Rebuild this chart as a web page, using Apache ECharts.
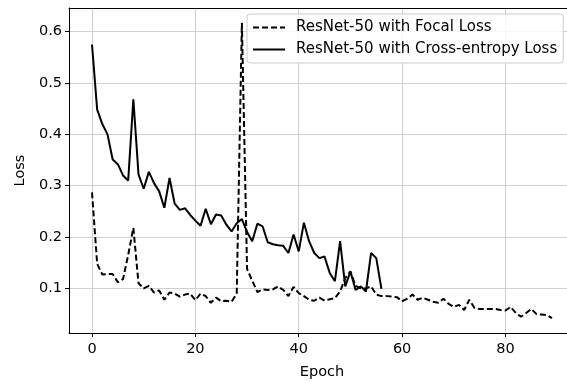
<!DOCTYPE html>
<html>
<head>
<meta charset="utf-8">
<script src="https://cdn.jsdelivr.net/npm/echarts@6/dist/echarts.min.js"></script>
<style>html,body{margin:0;padding:0;background:#fff}#c{width:567px;height:383px}</style>
</head>
<body>
<div id="c"></div>
<script>
const focalLoss = [0.287,0.148,0.127,0.128,0.128,0.112,0.118,0.165,0.218,0.110,
  0.100,0.105,0.092,0.096,0.078,0.092,0.090,0.084,0.088,0.090,
  0.077,0.090,0.085,0.072,0.082,0.075,0.076,0.074,0.090,0.617,
  0.138,0.115,0.093,0.098,0.097,0.098,0.104,0.097,0.085,0.103,
  0.091,0.085,0.078,0.076,0.082,0.076,0.079,0.081,0.094,0.120,
  0.133,0.105,0.100,0.100,0.104,0.088,0.085,0.085,0.084,0.083,
  0.075,0.080,0.088,0.078,0.082,0.078,0.074,0.072,0.080,0.070,
  0.064,0.068,0.058,0.078,0.062,0.060,0.060,0.060,0.060,0.058,
  0.057,0.064,0.052,0.045,0.052,0.060,0.050,0.049,0.048,0.042];
const ceLoss = [0.575,0.448,0.420,0.400,0.351,0.342,0.320,0.310,0.468,0.322,
  0.294,0.327,0.305,0.289,0.257,0.315,0.265,0.253,0.256,0.243,
  0.232,0.222,0.255,0.225,0.244,0.242,0.224,0.211,0.227,0.235,
  0.210,0.192,0.226,0.221,0.190,0.186,0.184,0.183,0.169,0.205,
  0.172,0.228,0.192,0.169,0.159,0.162,0.130,0.114,0.192,0.104,
  0.133,0.097,0.104,0.094,0.169,0.159,0.099];
const xTicks = [0,20,40,60,80];
const yTicks = [0.1,0.2,0.3,0.4,0.5,0.6];
const seriesNames = ['ResNet-50 with Focal Loss','ResNet-50 with Cross-entropy Loss'];

const toPairs = arr => arr.map((v,i)=>[i,v]);
const font = 'DejaVu Sans';
const chart = echarts.init(document.getElementById('c'));
chart.setOption({
  animation:false,
  textStyle:{fontFamily:font},
  grid:{left:69,top:8,width:506,bottom:50,outerBoundsMode:'none',containLabel:false,show:false},
  legend:{
    left:247, top:14, orient:'vertical', itemWidth:32, itemHeight:14, itemGap:7,
    padding:[6,6,6,5],
    backgroundColor:'rgba(255,255,255,0.8)', borderColor:'#cccccc', borderWidth:1, borderRadius:3,
    itemStyle:{opacity:0},
    textStyle:{fontFamily:font,fontSize:15,color:'#000',padding:[0,0,0,6]},
    data:seriesNames
  },
  xAxis:[{
    type:'value', min:-4.45, max:93.45,
    name:'Epoch', nameLocation:'middle', nameGap:32,
    nameTextStyle:{fontFamily:font,fontSize:14.5,color:'#000'},
    axisLine:{show:true,onZero:false,lineStyle:{color:'#000',width:1}},
    axisTick:{show:true,customValues:xTicks,length:4,lineStyle:{color:'#000'}},
    axisLabel:{customValues:xTicks,fontFamily:font,fontSize:14.5,color:'#000',margin:9},
    splitLine:{show:true,lineStyle:{color:'#d0d0d0',width:1}}
  },{
    type:'value', position:'top', min:-4.45, max:93.45,
    axisLine:{show:true,onZero:false,lineStyle:{color:'#000',width:1}},
    axisTick:{show:false}, axisLabel:{show:false}, splitLine:{show:false}
  }],
  yAxis:{
    type:'value', min:0.0132, max:0.646,
    name:'Loss', nameLocation:'middle', nameGap:41,
    nameTextStyle:{fontFamily:font,fontSize:14.5,color:'#000'},
    axisLine:{show:true,onZero:false,lineStyle:{color:'#000',width:1}},
    axisTick:{show:true,customValues:yTicks,length:4,lineStyle:{color:'#000'}},
    axisLabel:{customValues:yTicks,fontFamily:font,fontSize:14.5,color:'#000',margin:7,formatter:v=>v.toFixed(1)},
    splitLine:{show:true,lineStyle:{color:'#d0d0d0',width:1}}
  },
  series:[
    {name:seriesNames[0],type:'line',data:toPairs(focalLoss),symbol:'none',showSymbol:false,
     lineStyle:{color:'#000',width:2,type:[6,3]},itemStyle:{color:'#000'}},
    {name:seriesNames[1],type:'line',data:toPairs(ceLoss),symbol:'none',showSymbol:false,
     lineStyle:{color:'#000',width:2},itemStyle:{color:'#000'}}
  ]
});
</script>
</body>
</html>
